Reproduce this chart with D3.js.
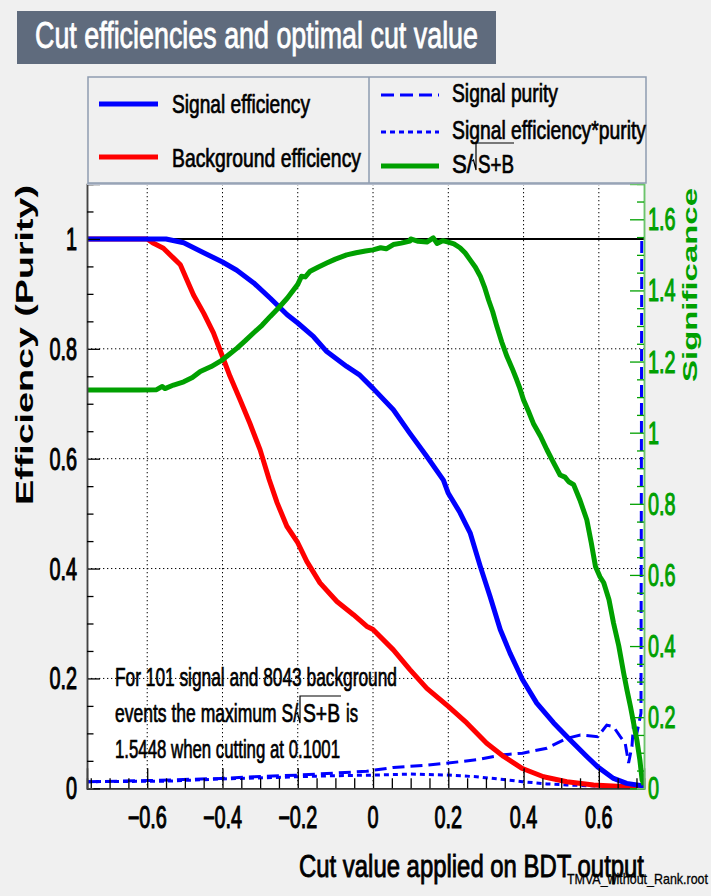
<!DOCTYPE html>
<html><head><meta charset="utf-8">
<script src="https://cdn.jsdelivr.net/npm/d3@7"></script>
<style>html,body{margin:0;padding:0;background:#f0f0f0}svg{display:block}</style>
</head><body>
<svg id="c" width="711" height="896"></svg>
<script>
// ---------------- data ----------------
const xTicks = [-0.6, -0.4, -0.2, 0, 0.2, 0.4, 0.6];
const xTickLabels = ["\u22120.6", "\u22120.4", "\u22120.2", "0", "0.2", "0.4", "0.6"];
const effTicks = [0, 0.2, 0.4, 0.6, 0.8, 1];
const effTickLabels = ["0", "0.2", "0.4", "0.6", "0.8", "1"];
const sigTicks = [0, 0.2, 0.4, 0.6, 0.8, 1, 1.2, 1.4, 1.6];
const sigTickLabels = ["0", "0.2", "0.4", "0.6", "0.8", "1", "1.2", "1.4", "1.6"];
const maxSig = 1.5448;
const nSignal = 101, nBackground = 8043, bestCut = 0.1001;

// [cut value, efficiency]
const signalEff = [[-0.76,1],[-0.55,1],[-0.503,0.993],[-0.45,0.975],[-0.40,0.958],[-0.362,0.943],[-0.317,0.92],[-0.273,0.892],[-0.228,0.862],[-0.2,0.847],[-0.158,0.822],[-0.123,0.795],[-0.07,0.768],[-0.035,0.752],[0,0.728],[0.054,0.689],[0.098,0.646],[0.143,0.604],[0.187,0.561],[0.2,0.537],[0.231,0.502],[0.258,0.465],[0.285,0.404],[0.311,0.349],[0.338,0.289],[0.364,0.246],[0.397,0.198],[0.435,0.155],[0.48,0.119],[0.524,0.088],[0.568,0.058],[0.597,0.039],[0.639,0.018],[0.674,0.009],[0.72,0.004]];
const backgroundEff = [[-0.76,1],[-0.60,1],[-0.583,0.992],[-0.557,0.983],[-0.53,0.965],[-0.512,0.953],[-0.495,0.926],[-0.477,0.898],[-0.45,0.865],[-0.424,0.829],[-0.40,0.786],[-0.38,0.75],[-0.353,0.707],[-0.327,0.664],[-0.3,0.616],[-0.276,0.562],[-0.255,0.52],[-0.229,0.477],[-0.2,0.447],[-0.176,0.413],[-0.141,0.374],[-0.096,0.34],[-0.052,0.316],[-0.017,0.295],[0,0.289],[0.054,0.252],[0.098,0.216],[0.143,0.182],[0.2,0.149],[0.249,0.119],[0.302,0.082],[0.347,0.058],[0.397,0.036],[0.453,0.021],[0.515,0.012],[0.586,0.006],[0.674,0.003],[0.72,0.002]];
const signalPurity = [[-0.76,0.012],[-0.6,0.014],[-0.404,0.018],[-0.317,0.021],[-0.2,0.024],[-0.096,0.028],[-0.017,0.031],[0.054,0.038],[0.143,0.042],[0.2,0.046],[0.275,0.052],[0.347,0.061],[0.397,0.064],[0.462,0.073],[0.515,0.091],[0.551,0.097],[0.597,0.094],[0.621,0.115],[0.639,0.112],[0.657,0.094],[0.670,0.082],[0.679,0.046],[0.688,0.076],[0.693,0.125],[0.701,0.1],[0.712,0.137],[0.714,1],[0.72,1]];
const effTimesPurity = [[-0.76,0.012],[-0.55,0.013],[-0.404,0.017],[-0.2,0.021],[-0.096,0.023],[0,0.024],[0.1,0.026],[0.2,0.024],[0.275,0.021],[0.347,0.016],[0.397,0.012],[0.462,0.008],[0.515,0.006],[0.6,0.004],[0.72,0.002]];
// [cut value, S/sqrt(S+B)]  (right axis)
const significance = [[-0.76,1.12],[-0.62,1.12],[-0.575,1.121],[-0.56,1.13],[-0.553,1.124],[-0.53,1.134],[-0.503,1.143],[-0.48,1.155],[-0.459,1.172],[-0.43,1.186],[-0.40,1.205],[-0.38,1.222],[-0.362,1.237],[-0.34,1.258],[-0.317,1.281],[-0.295,1.302],[-0.273,1.327],[-0.25,1.352],[-0.228,1.378],[-0.2,1.417],[-0.19,1.44],[-0.18,1.438],[-0.167,1.454],[-0.145,1.466],[-0.123,1.477],[-0.1,1.488],[-0.07,1.500],[-0.045,1.506],[-0.02,1.511],[0,1.514],[0.02,1.52],[0.035,1.517],[0.054,1.529],[0.075,1.533],[0.098,1.539],[0.1001,1.5448],[0.12,1.538],[0.143,1.536],[0.16,1.548],[0.17,1.532],[0.185,1.540],[0.2,1.536],[0.215,1.531],[0.231,1.520],[0.245,1.505],[0.258,1.486],[0.272,1.465],[0.285,1.440],[0.296,1.41],[0.307,1.373],[0.318,1.34],[0.329,1.299],[0.342,1.255],[0.356,1.214],[0.37,1.18],[0.382,1.148],[0.39,1.125],[0.4,1.092],[0.413,1.06],[0.426,1.026],[0.445,0.99],[0.462,0.952],[0.48,0.915],[0.497,0.881],[0.51,0.875],[0.52,0.862],[0.533,0.854],[0.55,0.81],[0.568,0.755],[0.58,0.69],[0.591,0.624],[0.603,0.595],[0.613,0.578],[0.627,0.53],[0.639,0.465],[0.653,0.4],[0.666,0.324],[0.675,0.275],[0.684,0.230],[0.693,0.18],[0.701,0.136],[0.709,0.08],[0.715,0.023],[0.72,0.01]];

// ---------------- layout ----------------
const svg = d3.select("#c");
const FONT = "'Liberation Sans', Arial, Helvetica, sans-serif";
const L = 87, R = 644, T = 184, B = 788.3;
const x = d3.scaleLinear().domain([-0.76, 0.72]).range([L, R]);
const y = d3.scaleLinear().domain([0, 1.1]).range([B, T]);
const ys = d3.scaleLinear().domain([0, 1.1 * maxSig]).range([B, T]);
const GREEN = "#00a000";

svg.append("rect").attr("width", 711).attr("height", 896).attr("fill", "#f0f0f0");

function txt(px, py, s, o = {}) {
  const t = svg.append("text").attr("x", px).attr("y", py).text(s)
    .attr("font-family", FONT).attr("font-size", o.size || 25)
    .attr("font-weight", o.weight || "normal")
    .attr("fill", o.fill || "#000").attr("stroke", o.fill || "#000").attr("stroke-width", o.sw == null ? 0.7 : o.sw)
    .attr("text-anchor", o.anchor || "start");
  if (o.width) t.attr("textLength", o.width).attr("lengthAdjust", "spacingAndGlyphs");
  return t;
}
function sqx(px, py, s, o = {}) {
  // horizontally condensed text
  const g = svg.append("g").attr("transform", `translate(${px},${py}) scale(${o.sx || 0.66},1)`);
  g.append("text").text(s).attr("font-family", FONT).attr("font-size", o.size || 30)
    .attr("font-weight", o.weight || "normal")
    .attr("fill", o.fill || "#000").attr("stroke", o.fill || "#000").attr("stroke-width", 1.1)
    .attr("text-anchor", o.anchor || "start");
  return g;
}
function radical(x0, yTop, yBot, xEnd, w) {
  svg.append("path")
    .attr("d", `M${x0 - 4},${yBot - 9} L${x0 - 2.5},${yBot - 10} L${x0},${yBot} L${x0},${yTop} L${xEnd},${yTop}`)
    .attr("fill", "none").attr("stroke", "#000").attr("stroke-width", w || 1.3);
}

// ---------------- title ----------------
svg.append("rect").attr("x", 17).attr("y", 11).attr("width", 479).attr("height", 53).attr("fill", "#5f6b7d");
txt(35, 48, "Cut efficiencies and optimal cut value", { size: 37, fill: "#fff", width: 443, sw: 0.8 });

// ---------------- plot area ----------------
svg.append("rect").attr("x", L).attr("y", T).attr("width", R - L).attr("height", B - T).attr("fill", "#fff");

// grid
const grid = svg.append("g").attr("stroke", "#000").attr("stroke-width", 1).attr("stroke-dasharray", "1.3,2.7");
grid.selectAll("line.v").data(xTicks).join("line").attr("class", "v")
  .attr("x1", d => x(d)).attr("x2", d => x(d)).attr("y1", T).attr("y2", B);
grid.selectAll("line.h").data(effTicks.filter(d => d > 0 && d < 1)).join("line").attr("class", "h")
  .attr("y1", d => y(d)).attr("y2", d => y(d)).attr("x1", L).attr("x2", R);

// line at efficiency 1
svg.append("line").attr("x1", L).attr("x2", R).attr("y1", y(1)).attr("y2", y(1)).attr("stroke", "#000").attr("stroke-width", 2);

// clip
svg.append("clipPath").attr("id", "clip").append("rect").attr("x", L).attr("y", T).attr("width", R - L).attr("height", B - T + 1);
const plot = svg.append("g").attr("clip-path", "url(#clip)");
const line = d3.line().x(d => x(d[0])).y(d => y(d[1]));
const lineS = d3.line().x(d => x(d[0])).y(d => ys(d[1]));

plot.append("path").datum(effTimesPurity).attr("d", line).attr("fill", "none").attr("stroke", "#0000ff").attr("stroke-width", 3).attr("stroke-dasharray", "5,4");
plot.append("path").datum(signalPurity).attr("d", line).attr("fill", "none").attr("stroke", "#0000ff").attr("stroke-width", 3).attr("stroke-dasharray", "12,6");
plot.append("path").datum(backgroundEff).attr("d", line).attr("fill", "none").attr("stroke", "#ff0000").attr("stroke-width", 5).attr("stroke-linejoin", "round");
plot.append("path").datum(signalEff).attr("d", line).attr("fill", "none").attr("stroke", "#0000ff").attr("stroke-width", 5).attr("stroke-linejoin", "round");
plot.append("path").datum(significance).attr("d", lineS).attr("fill", "none").attr("stroke", GREEN).attr("stroke-width", 5).attr("stroke-linejoin", "round");

// ---------------- axes ----------------
const minorX = d3.range(-0.75, 0.7201, 0.05).map(v => +v.toFixed(2)).filter(v => !xTicks.some(t => Math.abs(t - v) < 1e-6));
const minorE = d3.range(0.05, 1.1, 0.05).map(v => +v.toFixed(2)).filter(v => !effTicks.some(t => Math.abs(t - v) < 1e-6));
const minorS = d3.range(0.05, 1.69, 0.05).map(v => +v.toFixed(2)).filter(v => !sigTicks.some(t => Math.abs(t - v) < 1e-6));

// bottom
const gb = svg.append("g").attr("transform", `translate(0,${B})`);
gb.call(d3.axisBottom(x).tickValues(xTicks).tickSize(-20).tickFormat(""));
gb.append("g").call(d3.axisBottom(x).tickValues(minorX).tickSize(-10).tickFormat(""));
gb.selectAll("path.domain").attr("stroke", "#333").attr("stroke-width", 1.5);
gb.selectAll(".tick line").attr("stroke", "#000").attr("stroke-width", 1.3);
// left
const gl = svg.append("g").attr("transform", `translate(${L},0)`);
gl.call(d3.axisLeft(y).tickValues(effTicks).tickSize(-13).tickFormat(""));
gl.append("g").call(d3.axisLeft(y).tickValues(minorE).tickSize(-6.5).tickFormat(""));
gl.selectAll("path.domain").attr("stroke", "#444").attr("stroke-width", 1.5);
gl.selectAll(".tick line").attr("stroke", "#000").attr("stroke-width", 1.3);
// top frame
svg.append("line").attr("x1", L).attr("x2", R).attr("y1", T).attr("y2", T).attr("stroke", "#b4bccb").attr("stroke-width", 2);
// right (significance)
const gr = svg.append("g").attr("transform", `translate(${R},0)`);
gr.call(d3.axisRight(ys).tickValues(sigTicks).tickSize(-14).tickFormat(""));
gr.append("g").call(d3.axisRight(ys).tickValues(minorS).tickSize(-7).tickFormat(""));
gr.selectAll("path.domain").attr("stroke", "#6cc46c").attr("stroke-width", 1.5);
gr.selectAll(".tick line").attr("stroke", GREEN).attr("stroke-width", 1.3);

// tick labels
xTicks.forEach((v, i) => sqx(x(v), 828, xTickLabels[i], { anchor: "middle", size: 31, sx: 0.64 }));
effTicks.forEach((v, i) => sqx(77, y(v) + 11, effTickLabels[i], { anchor: "end", size: 31, sx: 0.64 }));
sigTicks.forEach((v, i) => sqx(648, ys(v) + 11, sigTickLabels[i], { anchor: "start", size: 31, sx: 0.64, fill: GREEN }));

// axis titles
svg.append("g").attr("transform", "translate(33,345) scale(0.66,1) rotate(-90)")
  .append("text").text("Efficiency (Purity)").attr("font-family", FONT).attr("font-weight", "bold")
  .attr("font-size", 36).attr("text-anchor", "middle").attr("textLength", 320).attr("lengthAdjust", "spacingAndGlyphs");
svg.append("g").attr("transform", "translate(697,285) scale(0.66,1) rotate(-90)")
  .append("text").text("Significance").attr("font-family", FONT).attr("font-weight", "bold").attr("fill", GREEN)
  .attr("font-size", 32).attr("text-anchor", "middle").attr("textLength", 194).attr("lengthAdjust", "spacingAndGlyphs");
txt(567, 884, "TMVA_without_Rank.root", { size: 15, width: 141, sw: 0.3 });
txt(644, 877, "Cut value applied on BDT output", { size: 32, anchor: "end", width: 345, sw: 0.9 });

// ---------------- legend ----------------
svg.append("rect").attr("x", 88).attr("y", 77).attr("width", 558).attr("height", 106)
  .attr("fill", "#f0f0f0").attr("stroke", "#8e9cb0").attr("stroke-width", 1.5);
svg.append("line").attr("x1", 369).attr("x2", 369).attr("y1", 77).attr("y2", 183).attr("stroke", "#8e9cb0").attr("stroke-width", 1.5);
const legend = [
  { x1: 99, x2: 158, y: 104, color: "#0000ff", w: 5, dash: null, label: "Signal efficiency", tx: 172, ty: 113, tw: 138 },
  { x1: 99, x2: 158, y: 157, color: "#ff0000", w: 5, dash: null, label: "Background efficiency", tx: 172, ty: 167, tw: 189 },
  { x1: 381, x2: 439, y: 95, color: "#0000ff", w: 3, dash: "13,6", label: "Signal purity", tx: 452, ty: 102, tw: 106 },
  { x1: 381, x2: 439, y: 132, color: "#0000ff", w: 3, dash: "5,4", label: "Signal efficiency*purity", tx: 452, ty: 139, tw: 194 },
  { x1: 381, x2: 439, y: 166, color: GREEN, w: 5, dash: null, label: null, tx: 452, ty: 173, tw: 0 }
];
legend.forEach(d => {
  const l = svg.append("line").attr("x1", d.x1).attr("x2", d.x2).attr("y1", d.y).attr("y2", d.y)
    .attr("stroke", d.color).attr("stroke-width", d.w);
  if (d.dash) l.attr("stroke-dasharray", d.dash);
  if (d.label) txt(d.tx, d.ty, d.label, { size: 25, width: d.tw });
});
txt(452, 173, "S/", { size: 25, width: 21 });
radical(476, 143, 170, 514, 1.2);
txt(478, 173, "S+B", { size: 25, width: 36 });

// ---------------- annotation ----------------
txt(115, 686, `For ${nSignal} signal and ${nBackground} background`, { size: 25, width: 282 });
txt(115, 722, "events the maximum S/", { size: 25, width: 183 });
radical(300, 696, 723, 341, 1.2);
txt(303, 722, "S+B", { size: 25, width: 37 });
txt(346, 722, "is", { size: 25, width: 12 });
txt(115, 758, `${maxSig} when cutting at ${bestCut}`, { size: 25, width: 225 });
</script>
</body></html>
